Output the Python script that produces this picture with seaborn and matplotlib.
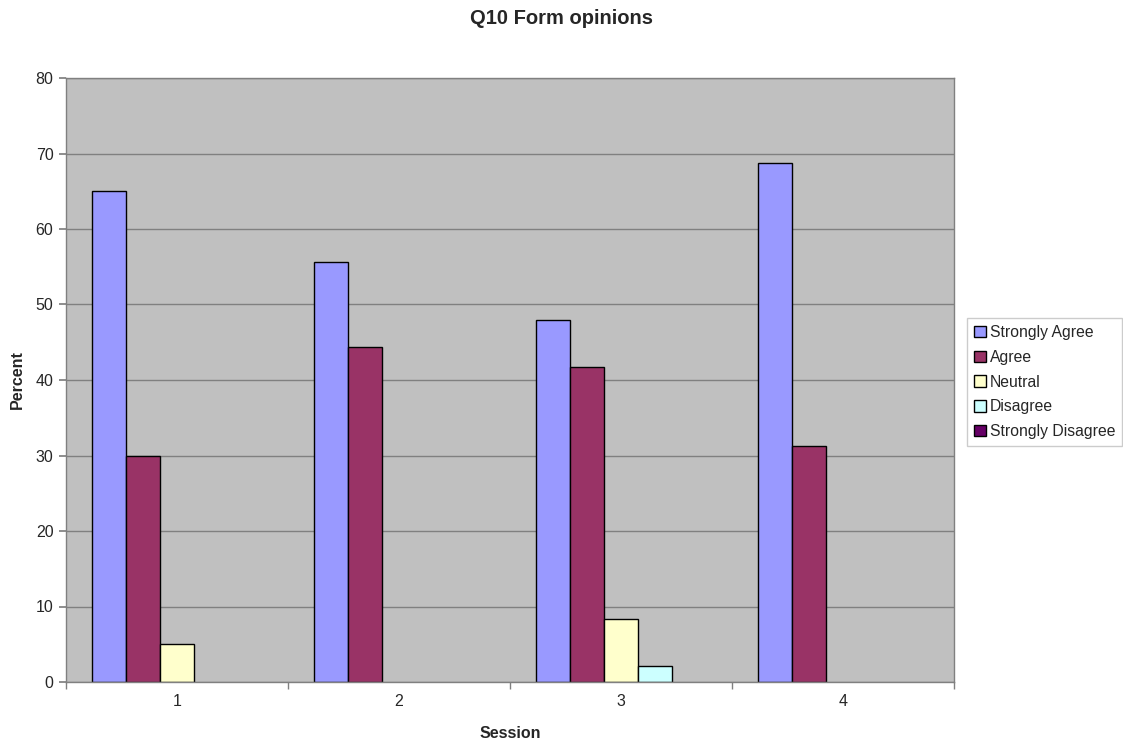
import matplotlib
matplotlib.use("Agg")
import matplotlib.pyplot as plt
import seaborn as sns
import pandas as pd
from matplotlib.patches import Patch
from matplotlib.ticker import FixedLocator, NullFormatter

sessions = ["1", "2", "3", "4"]
responses = ["Strongly Agree", "Agree", "Neutral", "Disagree", "Strongly Disagree"]
strongly_agree = [65.0, 55.6, 47.9, 68.75]
agree = [30.0, 44.4, 41.7, 31.25]
neutral = [5.0, 0.0, 8.3, 0.0]
disagree = [0.0, 0.0, 2.1, 0.0]
strongly_disagree = [0.0, 0.0, 0.0, 0.0]
colors = ["#9999FF", "#993366", "#FFFFCC", "#CCFFFF", "#660066"]

series = [strongly_agree, agree, neutral, disagree, strongly_disagree]
rows = []
for resp, vals in zip(responses, series):
    for s, v in zip(sessions, vals):
        rows.append({"Session": s, "Response": resp, "Percent": v})
df = pd.DataFrame(rows)

sns.set_theme(style="white")
plt.rcParams["font.family"] = ["Liberation Sans", "DejaVu Sans"]

fig = plt.figure(figsize=(11.23, 7.42), dpi=100)
ax = fig.add_axes([66 / 1123, 1 - 682 / 742, (954 - 66) / 1123, (682 - 78) / 742])
ax.set_facecolor("#C0C0C0")

sns.barplot(data=df, x="Session", y="Percent", hue="Response",
            hue_order=responses, order=sessions, palette=colors,
            width=0.77, edgecolor="black", linewidth=1.0, ax=ax,
            errorbar=None, legend=False, saturation=1)

# hide zero-height bars (Excel draws nothing for zero values)
for p in ax.patches:
    if p.get_height() == 0:
        p.set_visible(False)

ax.set_ylim(0, 80)
ax.set_xlim(-0.5, 3.5)
ax.set_yticks(range(0, 81, 10))
ax.yaxis.grid(True, color="#808080", linewidth=1)
ax.set_axisbelow(True)
for sp in ax.spines.values():
    sp.set_color("#808080")
    sp.set_linewidth(1)

ax.tick_params(axis="y", which="major", direction="out", length=5, color="#808080",
               labelsize=11.5, left=True, pad=4)
ax.tick_params(axis="x", which="major", length=0, labelsize=11.5, pad=9)
ax.xaxis.set_minor_locator(FixedLocator([-0.5, 0.5, 1.5, 2.5, 3.5]))
ax.xaxis.set_minor_formatter(NullFormatter())
ax.tick_params(axis="x", which="minor", direction="out", length=5, color="#808080", bottom=True)

ax.set_xlabel("Session", fontsize=11.5, fontweight="bold", labelpad=12)
ax.set_ylabel("Percent", fontsize=11.5, fontweight="bold", labelpad=8)
fig.suptitle("Q10 Form opinions", fontsize=14.5, fontweight="bold", y=1 - 18 / 742, va="center")

handles = [Patch(facecolor=c, edgecolor="black", linewidth=1) for c in colors]
leg = fig.legend(handles, responses, loc="upper left",
                 bbox_to_anchor=(967 / 1123, 1 - 318 / 742),
                 fontsize=11.3, frameon=True, fancybox=False,
                 handlelength=0.75, handleheight=0.75, handletextpad=0.25,
                 labelspacing=0.62, borderpad=0.45, borderaxespad=0)
leg.get_frame().set_edgecolor("#C0C0C0")
leg.get_frame().set_linewidth(1)

fig.savefig("out.png", dpi=100, facecolor="white")
